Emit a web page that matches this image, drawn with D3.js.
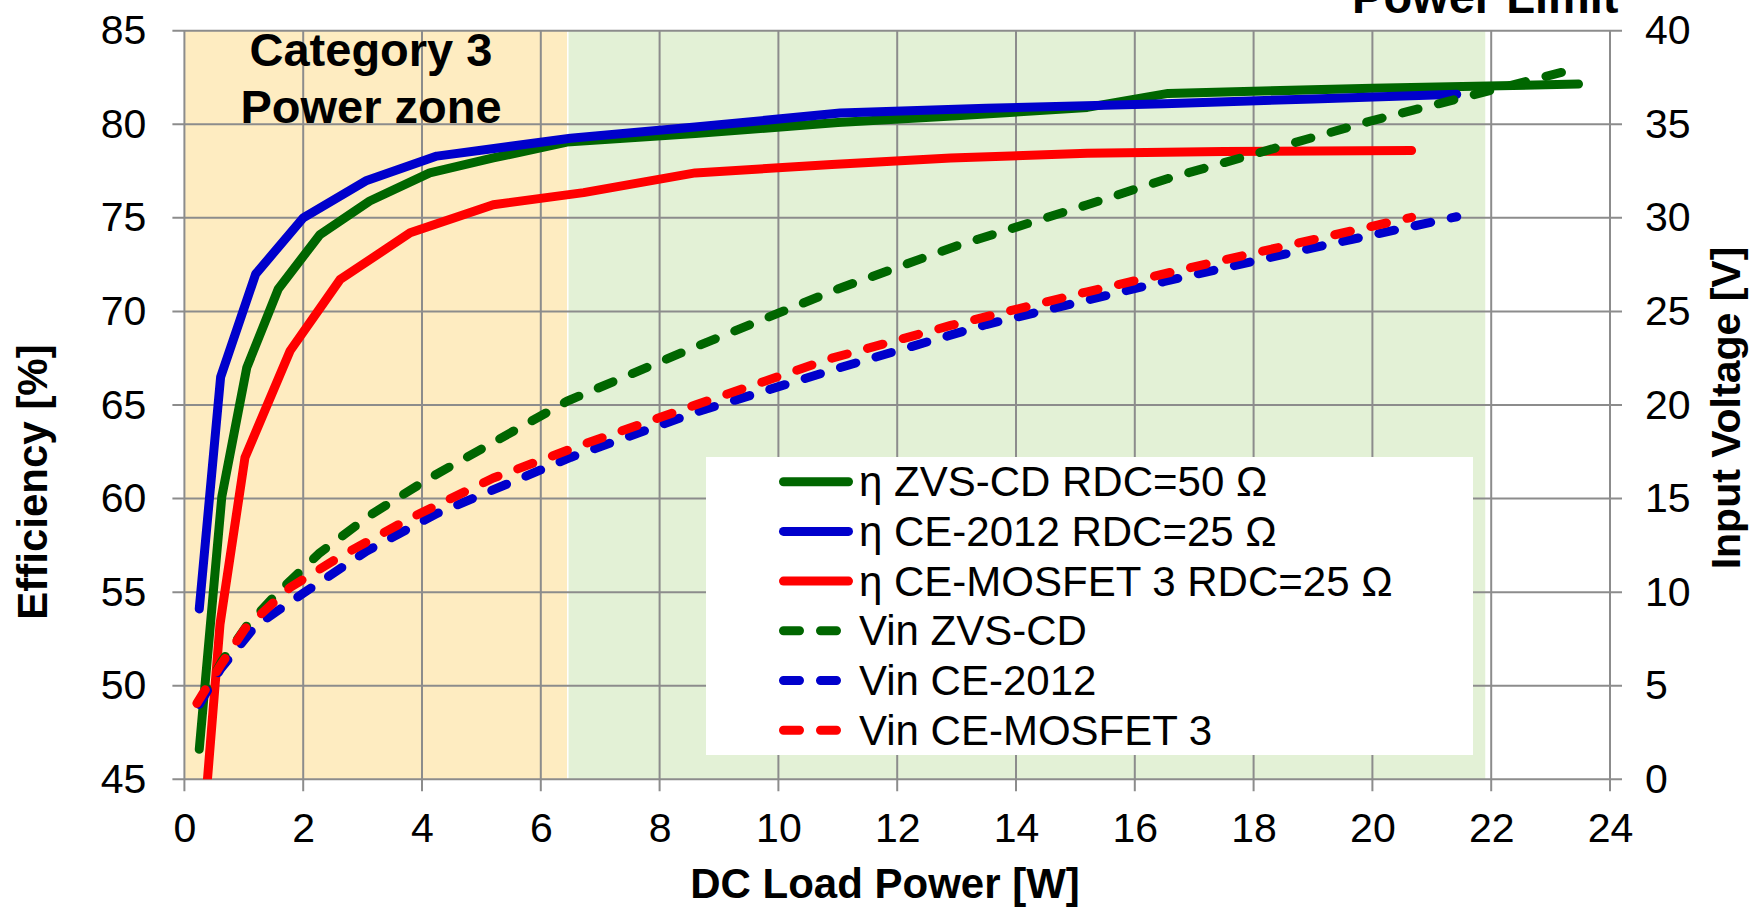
<!DOCTYPE html>
<html><head><meta charset="utf-8">
<script src="https://cdn.jsdelivr.net/npm/d3@7"></script>
<style>
body{margin:0;background:#fff}
svg{display:block}
text{font-family:"Liberation Sans",Arial,Helvetica,sans-serif;fill:#000}
</style>
</head><body>
<svg id="chart" width="1752" height="909"></svg>
<script>
// ---------- data ----------
const xTicks = [0,2,4,6,8,10,12,14,16,18,20,22,24];
const leftTicks = [45,50,55,60,65,70,75,80,85];
const rightTicks = [0,5,10,15,20,25,30,35,40];

const xTitle = "DC Load Power [W]";
const leftTitle = "Efficiency [%]";
const rightTitle = "Input Voltage [V]";

// zone boundaries in W
const categoryZone = [0, 6.45];
const limitZone = [6.45, 21.9];
const categoryLabel = ["Category 3", "Power zone"];
const limitLabel = "Power Limit";

// ZVS-CD (RDC = 50 ohm)
const zvsPower = [0.25,0.63,1.05,1.58,2.28,3.12,4.13,5.2,6.44,8.6,11.0,13.0,15.2,16.56,20.0,23.47];
const zvsEta   = [46.6,60.1,67.0,71.2,74.1,75.9,77.4,78.2,79.05,79.5,80.1,80.45,80.9,81.65,81.92,82.15];
const zvsVin   = [4.1,6.3,8.2,10.0,12.1,14.1,16.1,18.0,20.2,23.1,26.2,28.5,30.7,32.1,35.2,38.0];

// CE-2012 (RDC = 25 ohm)
const ce2012Power = [0.25,0.61,1.2,2.0,3.07,4.25,6.5,8.6,11.04,13.5,16.5,19.0,21.42];
const ce2012Eta   = [54.1,66.5,72.0,75.0,77.0,78.3,79.25,79.85,80.6,80.85,81.1,81.35,81.6];
const ce2012Vin   = [4.0,5.9,8.2,9.94,12.2,14.2,17.2,19.6,22.0,24.3,26.6,28.4,30.06];

// CE-MOSFET 3 (RDC = 25 ohm)
const mosPower = [0.21,0.6,1.02,1.78,2.62,3.8,5.2,6.72,8.6,10.9,12.9,15.2,17.5,20.66];
const mosEta   = [38.0,53.3,62.2,67.9,71.7,74.2,75.7,76.35,77.4,77.85,78.2,78.45,78.55,78.6];
const mosVin   = [4.06,6.05,8.05,10.25,11.9,13.95,16.1,17.9,20.0,22.5,24.25,26.05,27.75,30.03];

const legendLabels = [
  "\u03b7 ZVS-CD RDC=50 \u03a9",
  "\u03b7 CE-2012 RDC=25 \u03a9",
  "\u03b7 CE-MOSFET 3 RDC=25 \u03a9",
  "Vin ZVS-CD",
  "Vin CE-2012",
  "Vin CE-MOSFET 3"
];

// ---------- styling ----------
const GREEN = "#006600", BLUE = "#0000CC", RED = "#FF0000";
const GRID = "#8c8c8c";
const LW = 9;
const DASH = "16,21";

const series = [
  {power: zvsPower,    vals: zvsEta,    axis: "L", color: GREEN, dash: null},
  {power: ce2012Power, vals: ce2012Eta, axis: "L", color: BLUE,  dash: null},
  {power: mosPower,    vals: mosEta,    axis: "L", color: RED,   dash: null},
  {power: zvsPower,    vals: zvsVin,    axis: "R", color: GREEN, dash: DASH},
  {power: ce2012Power, vals: ce2012Vin, axis: "R", color: BLUE,  dash: DASH},
  {power: mosPower,    vals: mosVin,    axis: "R", color: RED,   dash: DASH}
];

// ---------- scales ----------
const X0 = 184.4, X1 = 1610, Y0 = 779.3, Y1 = 30.7;
const x = d3.scaleLinear().domain([0,24]).range([X0, X1]);
const yL = d3.scaleLinear().domain([45,85]).range([Y0, Y1]);
const yR = d3.scaleLinear().domain([0,40]).range([Y0, Y1]);

const svg = d3.select("#chart");

svg.append("defs").append("clipPath").attr("id","plotclip")
  .append("rect").attr("x",X0).attr("y",Y1).attr("width",X1-X0).attr("height",Y0-Y1);

// zones
svg.append("rect")
  .attr("x", x(categoryZone[0])).attr("y", Y1)
  .attr("width", x(categoryZone[1]) - x(categoryZone[0]) - 0.5)
  .attr("height", Y0 - Y1).attr("fill", "#FEECC1");
svg.append("rect")
  .attr("x", x(limitZone[0]) + 1).attr("y", Y1)
  .attr("width", x(limitZone[1]) - x(limitZone[0]) - 1)
  .attr("height", Y0 - Y1).attr("fill", "#E3F1D6");

// gridlines
const grid = svg.append("g").attr("stroke", GRID).attr("stroke-width", 2);
grid.selectAll("line.h").data(leftTicks).join("line")
  .attr("x1", X0 - 12).attr("x2", X1 + 12)
  .attr("y1", d => yL(d)).attr("y2", d => yL(d));
grid.selectAll("line.v").data(xTicks).join("line")
  .attr("x1", d => x(d)).attr("x2", d => x(d))
  .attr("y1", Y1).attr("y2", Y0 + 12);

// axes (labels only, lines are gridlines)
const tickFont = 41;
const axL = svg.append("g").attr("transform", `translate(${X0},0)`)
  .call(d3.axisLeft(yL).tickValues(leftTicks).tickSize(0).tickPadding(38));
const axR = svg.append("g").attr("transform", `translate(${X1},0)`)
  .call(d3.axisRight(yR).tickValues(rightTicks).tickSize(0).tickPadding(35));
const axB = svg.append("g").attr("transform", `translate(0,${Y0})`)
  .call(d3.axisBottom(x).tickValues(xTicks).tickSize(0).tickPadding(34));
[axL, axR, axB].forEach(a => {
  a.select(".domain").remove();
  a.selectAll("text").attr("font-size", tickFont)
    .attr("font-family", '"Liberation Sans",Arial,sans-serif').attr("fill", "#000");
});

// series lines
const plot = svg.append("g").attr("clip-path", "url(#plotclip)");
series.forEach(s => {
  const yS = s.axis === "L" ? yL : yR;
  const pts = s.power.map((p, i) => [p, s.vals[i]]);
  const line = d3.line().x(d => x(d[0])).y(d => yS(d[1]));
  plot.append("path").attr("d", line(pts))
    .attr("fill", "none").attr("stroke", s.color).attr("stroke-width", LW)
    .attr("stroke-linecap", "round").attr("stroke-linejoin", "round")
    .attr("stroke-dasharray", s.dash);
});

// annotations
svg.append("text").attr("x", 371).attr("y", 66).attr("text-anchor","middle")
  .attr("font-size", 47).attr("font-weight","bold").text(categoryLabel[0]);
svg.append("text").attr("x", 371).attr("y", 123).attr("text-anchor","middle")
  .attr("font-size", 47).attr("font-weight","bold").text(categoryLabel[1]);
svg.append("text").attr("x", x(limitZone[1])).attr("y", 13).attr("text-anchor","middle")
  .attr("font-size", 47).attr("font-weight","bold").text(limitLabel);

// legend
const lg = svg.append("g");
lg.append("rect").attr("x", 706).attr("y", 457).attr("width", 767).attr("height", 298).attr("fill", "#fff");
legendLabels.forEach((lab, i) => {
  const s = series[i];
  const cy = 481.7 + i * 49.7;
  lg.append("line").attr("x1", 783.5).attr("x2", 848.5).attr("y1", cy).attr("y2", cy)
    .attr("stroke", s.color).attr("stroke-width", LW).attr("stroke-linecap", "round")
    .attr("stroke-dasharray", s.dash);
  lg.append("text").attr("x", 859).attr("y", cy + 14.5).attr("font-size", 42).text(lab);
});

// axis titles
svg.append("text").attr("x", 885).attr("y", 898).attr("text-anchor","middle")
  .attr("font-size", 42).attr("font-weight","bold").text(xTitle);
svg.append("text").attr("transform","translate(46.5,482) rotate(-90)").attr("text-anchor","middle")
  .attr("font-size", 42).attr("font-weight","bold").text(leftTitle);
svg.append("text").attr("transform","translate(1740,408) rotate(-90)").attr("text-anchor","middle")
  .attr("font-size", 41).attr("font-weight","bold").text(rightTitle);
</script>
</body></html>
